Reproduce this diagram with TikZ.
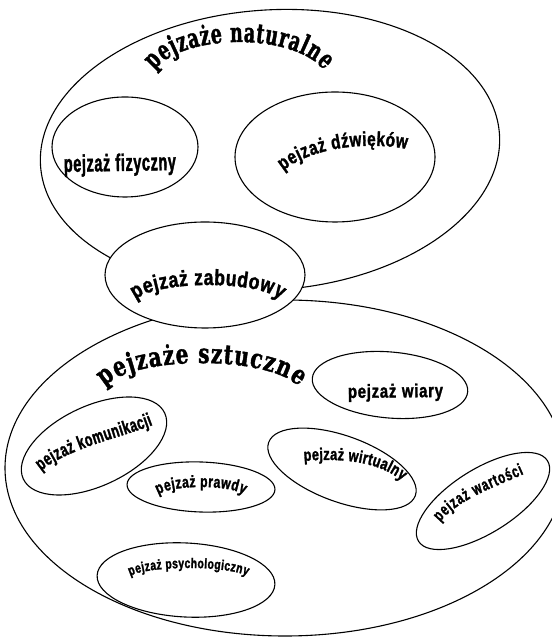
\documentclass[tikz,border=0pt]{standalone}
\usepackage{fontspec}
\usetikzlibrary{shapes.geometric,decorations.text}

\newcommand{\archserif}[2]{\fontspec{DejaVu Serif}[FakeStretch=#1,FakeBold=1.5]\bfseries\fontsize{#2}{#2}\selectfont}
\newcommand{\archsans}[2]{\fontspec{Liberation Sans}[FakeStretch=#1,FakeBold=1.5]\bfseries\fontsize{#2}{#2}\selectfont}

\begin{document}
\begin{tikzpicture}[x=1pt, y=1pt, line width=1.1pt,
    bubble/.style={draw, ellipse, inner sep=0pt},
    arched/.style={decorate, decoration={text along path, text align={fit to path}}}]
    \useasboundingbox (0,0) rectangle (551,639);

    % the two big groups
    \node[bubble, minimum width=460, minimum height=280, rotate=4] (nat) at (270,489) {};
    \node[bubble, minimum width=560, minimum height=336]           (szt) at (285,171) {};

    \node[bubble, minimum width=146, minimum height=100]           (fiz) at (125,492) {};
    \node[bubble, minimum width=200, minimum height=130]           (dzw) at (335,482) {};
    \node[bubble, fill=white, minimum width=200, minimum height=106] (zab) at (205,364) {};

    \node[bubble, minimum width=156, minimum height=66, rotate=-5]  (wia) at (390,254) {};
    \node[bubble, minimum width=156, minimum height=80, rotate=25]  (kom) at (94,193)  {};
    \node[bubble, minimum width=148, minimum height=50, rotate=-2]  (pra) at (201,152) {};
    \node[bubble, minimum width=156, minimum height=66, rotate=-20] (wir) at (342,170) {};
    \node[bubble, minimum width=152, minimum height=64, rotate=32]  (war) at (483,138) {};
    \node[bubble, minimum width=178, minimum height=74, rotate=-3]  (psy) at (186,59)  {};

    % arched labels
    \path[arched, decoration={text={|\archserif{0.64}{27}|pejzaże naturalne}}]
        (239,556) ++(162:89 and 41) arc[start angle=162, end angle=18, x radius=89, y radius=41];
    \path[arched, decoration={text={|\archserif{0.74}{27}|pejzaże sztuczne}}]
        (201.5,244) ++(165:100.4 and 32) arc[start angle=165, end angle=15, x radius=100.4, y radius=32];

    \path[arched, decoration={text={|\archsans{0.6}{24}|pejzaż fizyczny}}]
        (64,467) -- (176,469);
    \path[arched, decoration={text={|\archsans{0.76}{20}|pejzaż dźwięków}}]
        (371.5,441.6) ++(149:103 and 51.6) arc[start angle=149, end angle=70, x radius=103, y radius=51.6];
    \path[arched, decoration={text={|\archsans{0.8}{22}|pejzaż zabudowy}}]
        (208,334) ++(165:75 and 20) arc[start angle=165, end angle=15, x radius=75, y radius=20];

    \path[arched, decoration={text={|\archsans{0.78}{19}|pejzaż wiary}}]
        (348,241) -- (443,242);
    \path[arched, decoration={text={|\archsans{0.66}{19}|pejzaż komunikacji}}]
        (41,168) .. controls (68,190.5) and (119.5,201) .. (153,214);
    \path[arched, decoration={text={|\archsans{0.74}{16.5}|pejzaż prawdy}}]
        (201,140.4) ++(160:45.7 and 11.6) arc[start angle=160, end angle=20, x radius=45.7, y radius=11.6];
    \path[arched, decoration={text={|\archsans{0.75}{17}|pejzaż wirtualny}}]
        (304,178) .. controls (339,181) and (378,178.3) .. (402,158);
    \path[arched, decoration={text={|\archsans{0.68}{17}|pejzaż wartości}}]
        (440,117) .. controls (459,140) and (495,152) .. (524,165);
    \path[arched, decoration={text={|\archsans{0.74}{14}|pejzaż psychologiczny}}]
        (188.6,59) ++(160:62.3 and 12) arc[start angle=160, end angle=20, x radius=62.3, y radius=12];
\end{tikzpicture}
\end{document}
